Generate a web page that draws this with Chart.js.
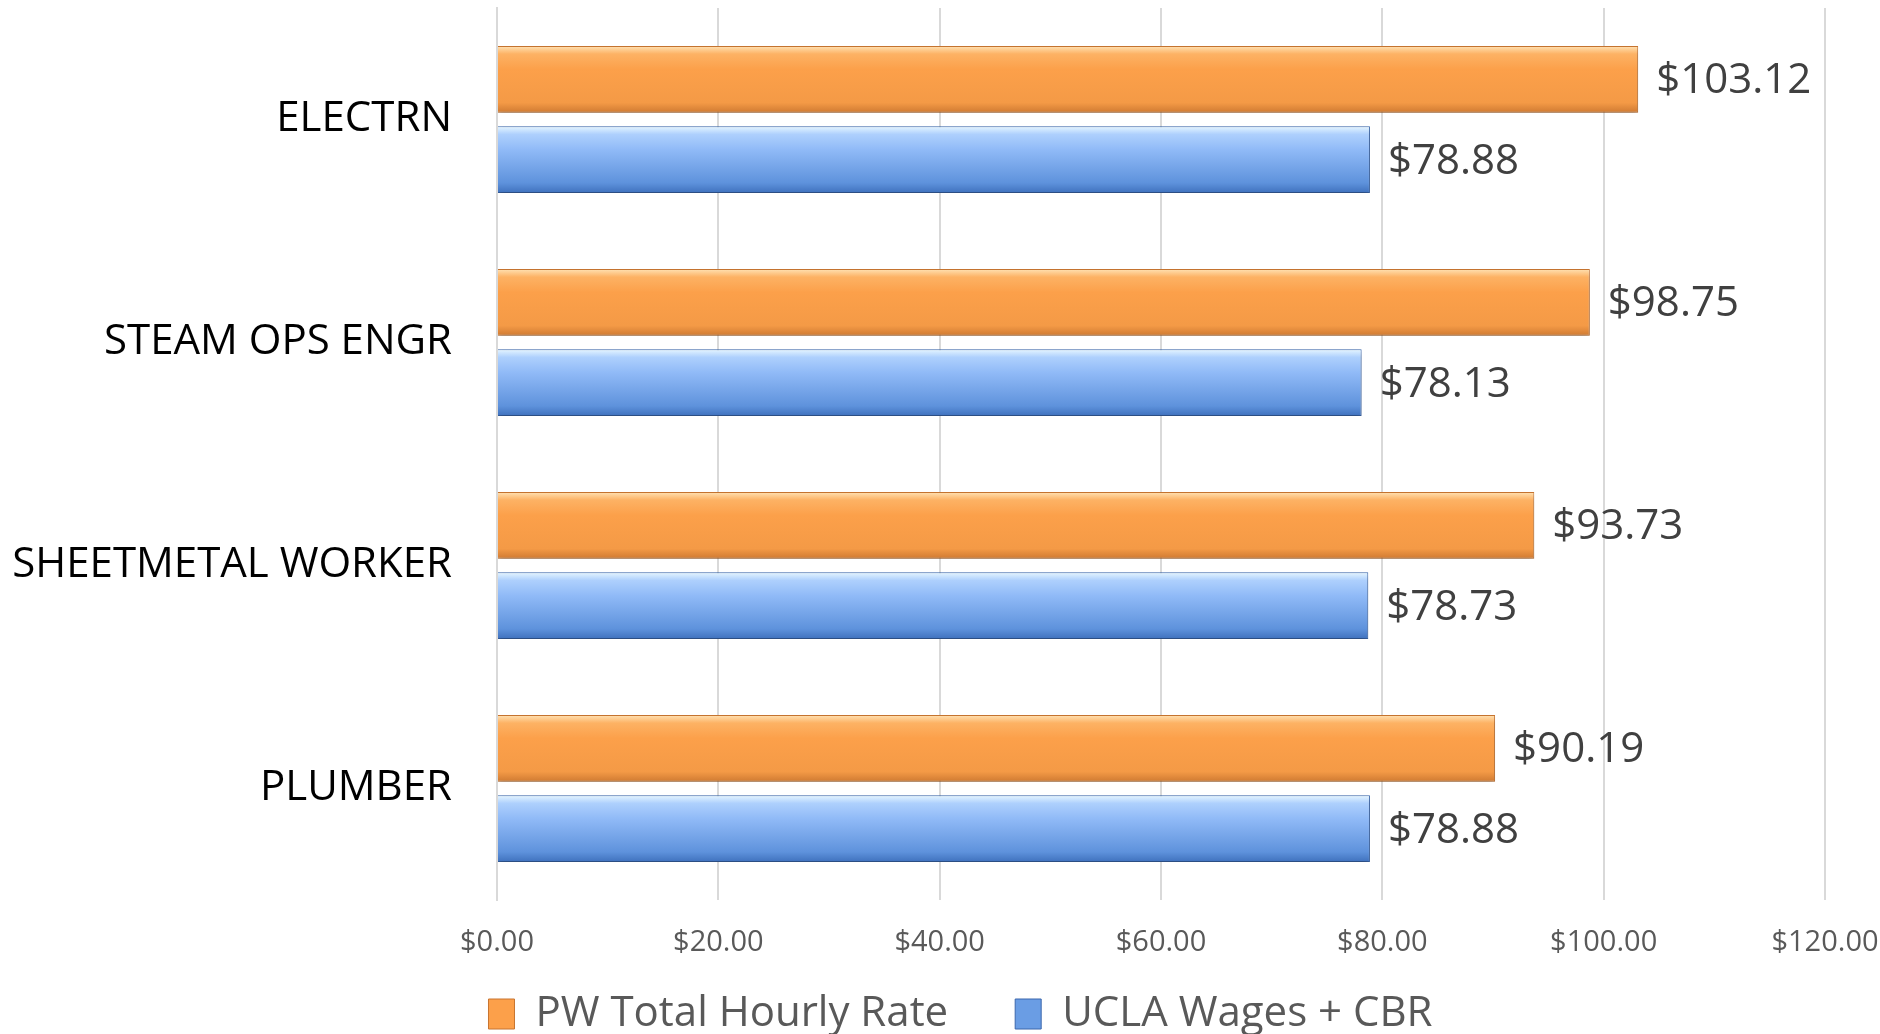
<!DOCTYPE html>
<html>
<head>
<meta charset="utf-8">
<script src="https://cdn.jsdelivr.net/npm/chart.js@4/dist/chart.umd.min.js"></script>
<style>
  html, body { margin: 0; padding: 0; background: #fff; }
  .chart { width: 1880px; height: 1034px; }
</style>
</head>
<body>
<div class="chart"><canvas id="myChart" width="1880" height="1034"></canvas></div>
<script>
const categories = ["ELECTRN", "STEAM OPS ENGR", "SHEETMETAL WORKER", "PLUMBER"];
const pwRates = [103.12, 98.75, 93.73, 90.19];
const uclaRates = [78.88, 78.13, 78.73, 78.88];
const seriesNames = ["PW Total Hourly Rate", "UCLA Wages + CBR"];

const money = v => "$" + Number(v).toFixed(2);

// colour stops for the bevelled look (top -> bottom)
const shades = [
    { stops: ["#ffe2b4", "#fdb264", "#fca04a", "#f49a46", "#cf7a32"], base: "#fca04a", border: "#c87530" },
    { stops: ["#e6f6ff", "#aed0fd", "#90baf7", "#5e92dc", "#3f71bd"], base: "#6a9de4", border: "#3a67ad" }
];

const gradientBars = {
    id: "gradientBars",
    afterLayout(chart) {
        // nudge the legend a little right and down, like the original
        const lg = chart.legend;
        lg.left += 48; lg.right += 48;
        lg.top += 11; lg.bottom += 11;
    },
    beforeDatasetsDraw(chart) {
        const ctx = chart.ctx;
        chart.data.datasets.forEach((ds, i) => {
            const s = shades[i];
            chart.getDatasetMeta(i).data.forEach(bar => {
                const top = bar.y - bar.height / 2;
                const g = ctx.createLinearGradient(0, top, 0, top + bar.height);
                g.addColorStop(0, s.stops[0]);
                g.addColorStop(0.12, s.stops[1]);
                g.addColorStop(0.35, s.stops[2]);
                g.addColorStop(0.85, s.stops[3]);
                g.addColorStop(1, s.stops[4]);
                bar.options = Object.assign({}, bar.options, { backgroundColor: g });
            });
        });
        ctx.save();
        ctx.shadowColor = "rgba(0,0,0,0.28)";
        ctx.shadowBlur = 6;
        ctx.shadowOffsetY = 4;
    },
    afterDatasetsDraw(chart) {
        const ctx = chart.ctx;
        ctx.restore();
        ctx.save();
        ctx.font = "42px 'Open Sans'";
        ctx.fillStyle = "#404040";
        ctx.textAlign = "left";
        ctx.textBaseline = "middle";
        chart.data.datasets.forEach((ds, i) => {
            chart.getDatasetMeta(i).data.forEach((bar, j) => {
                ctx.fillText(money(ds.data[j]), bar.x + 18, bar.y + 2);
            });
        });
        ctx.restore();
    }
};

const config = {
    type: "bar",
    data: {
        labels: categories,
        datasets: [
            {
                label: seriesNames[0],
                data: pwRates,
                backgroundColor: () => shades[0].base,
                borderColor: shades[0].border,
                borderWidth: 1,
                categoryPercentage: 0.72,
                barPercentage: 0.83
            },
            {
                label: seriesNames[1],
                data: uclaRates,
                backgroundColor: () => shades[1].base,
                borderColor: shades[1].border,
                borderWidth: 1,
                categoryPercentage: 0.72,
                barPercentage: 0.83
            }
        ]
    },
    options: {
        indexAxis: "y",
        responsive: false,
        animation: false,
        layout: { padding: { top: 8, right: 55, left: 0, bottom: 0 } },
        plugins: {
            legend: {
                position: "bottom",
                labels: {
                    boxWidth: 26,
                    boxHeight: 30,
                    padding: 4,
                    color: "#595959",
                    font: { family: "'Open Sans'", size: 42 },
                    // first entry carries the wide gap that separates the two items
                    generateLabels: chart => chart.data.datasets.map((ds, i) => ({
                        text: i === 0 ? ds.label + "\u2003\u2002" : ds.label,
                        fillStyle: shades[i].base,
                        strokeStyle: shades[i].border,
                        lineWidth: 1,
                        fontColor: "#595959",
                        datasetIndex: i
                    }))
                }
            },
            tooltip: { enabled: false }
        },
        scales: {
            x: {
                min: 0,
                max: 120,
                ticks: {
                    stepSize: 20,
                    color: "#595959",
                    padding: 25,
                    font: { family: "'Open Sans'", size: 29 },
                    callback: v => money(v)
                },
                grid: { color: "#d9d9d9", lineWidth: 2, drawTicks: false },
                border: { display: false },
                afterFit: scale => {
                    scale.height = 78;
                    scale.paddingLeft = 0;
                    scale.paddingRight = 0;
                }
            },
            y: {
                ticks: {
                    color: "#000",
                    padding: 45,
                    font: { family: "'Open Sans'", size: 42 }
                },
                grid: { display: false, drawTicks: false },
                border: { display: true, color: "#d9d9d9", width: 2 },
                afterFit: scale => {
                    scale.width = 497;
                    scale.paddingTop = 0;
                    scale.paddingBottom = 0;
                }
            }
        }
    },
    plugins: [gradientBars]
};

new Chart(document.getElementById("myChart"), config);
</script>
</body>
</html>
